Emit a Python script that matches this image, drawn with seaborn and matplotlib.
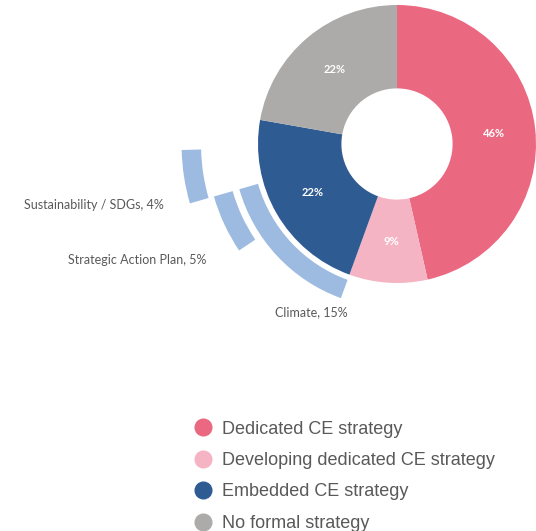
import matplotlib
matplotlib.use("Agg")
import matplotlib.pyplot as plt
from matplotlib.lines import Line2D
import seaborn as sns

sns.set_theme(style="white")
plt.rcParams["font.family"] = ["Lato", "DejaVu Sans"]

# ---- data ----
categories = ["Dedicated CE strategy", "Developing dedicated CE strategy",
              "Embedded CE strategy", "No formal strategy"]
shares = [46, 9, 22, 22]
colors = ["#EB6881", "#F4B4C3", "#2F5B93", "#ADAAAA"]

# breakdown of the embedded strategy slice
sub_labels = ["Climate", "Strategic Action Plan", "Sustainability / SDGs"]
sub_shares = [15, 5, 4]
sub_color = "#9DBBE0"
TEXT = "#595959"

fig = plt.figure(figsize=(5.36, 5.31), dpi=100)
ax = fig.add_axes([0, 0, 1, 1])

# main donut
wedges, _, autotexts = ax.pie(
    shares, colors=colors, startangle=90, counterclock=False,
    radius=1.0, wedgeprops=dict(width=0.60, linewidth=0),
    autopct="%.0f%%", pctdistance=0.70,
    textprops=dict(color="white", fontsize=8, fontweight="bold"))

# angle where the embedded slice starts (clockwise from 12 o'clock)
emb_start = 90 - 360 * sum(shares[:2]) / sum(shares)
clim_end = emb_start - 360 * sub_shares[0] / 100

def arc(value, start, radius, ccw):
    ax.pie([value, 100 - value], colors=[sub_color, (0, 0, 0, 0)],
           startangle=start, counterclock=ccw, radius=radius,
           wedgeprops=dict(width=0.14, linewidth=0))

arc(sub_shares[0], emb_start, 1.18, False)   # Climate
arc(sub_shares[1], clim_end, 1.37, True)     # Strategic Action Plan
arc(sub_shares[2], clim_end, 1.55, False)    # Sustainability / SDGs

ax.set_xlim(-397 / 139, 139 / 139)
ax.set_ylim(-(531 - 144) / 139, 144 / 139)
ax.set_aspect("equal")
ax.axis("off")

lab_kw = dict(color=TEXT, fontsize=9, va="center")
ax.text(-1.68, -0.44, f"{sub_labels[2]}, {sub_shares[2]}%", ha="right", **lab_kw)
ax.text(-1.37, -0.835, f"{sub_labels[1]}, {sub_shares[1]}%", ha="right", **lab_kw)
ax.text(-0.62, -1.21, f"{sub_labels[0]}, {sub_shares[0]}%", ha="center", **lab_kw)

handles = [Line2D([0], [0], marker="o", linestyle="", markersize=12,
                  markerfacecolor=c, markeredgecolor=c) for c in colors]
leg = fig.legend(handles, categories, loc="upper left",
                 bbox_to_anchor=(0.361, 0.208), frameon=False,
                 handlelength=1.0, handletextpad=0.57,
                 labelspacing=0.8, borderpad=0, borderaxespad=0,
                 prop=dict(family="Liberation Sans", size=13))
for t in leg.get_texts():
    t.set_color(TEXT)

fig.savefig("out.png", dpi=100)
